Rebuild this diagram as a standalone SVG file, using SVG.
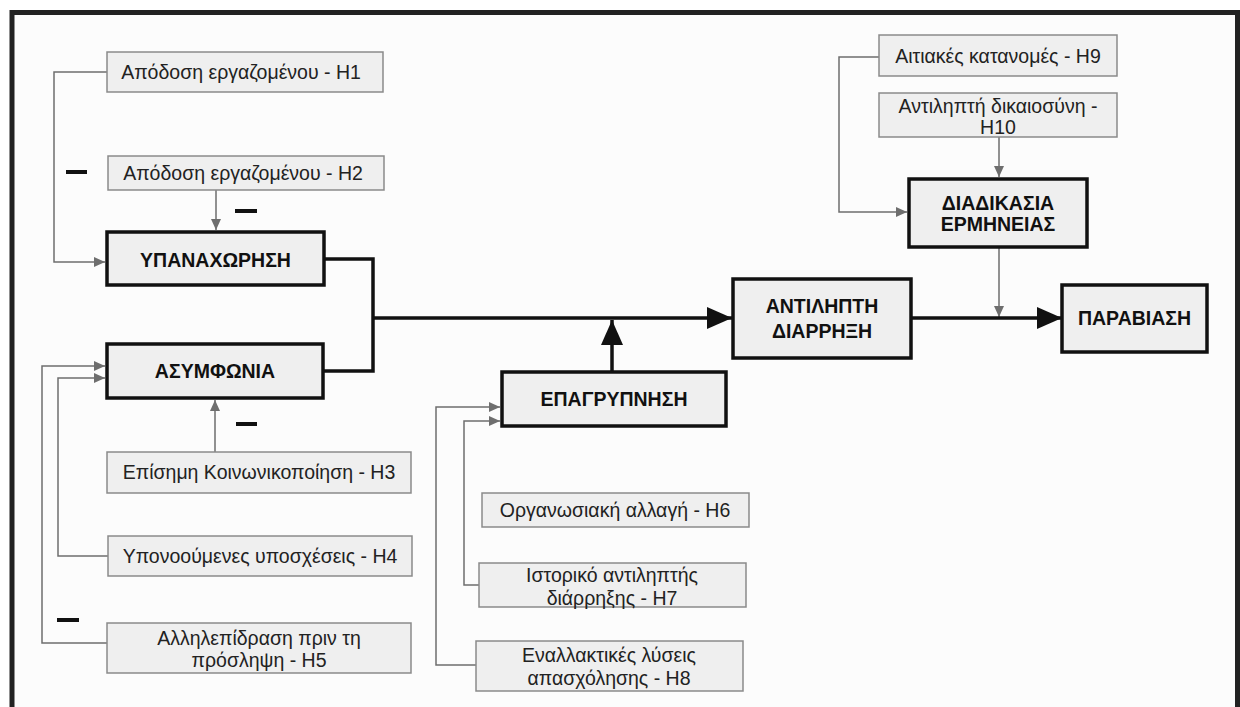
<svg xmlns="http://www.w3.org/2000/svg" width="1240" height="707" viewBox="0 0 1240 707">
<style>
.hb{fill:#efefef;stroke:#8a8a8a;stroke-width:1.5}
.mb{fill:#efefef;stroke:#111;stroke-width:3.5}
.ht{font-family:"Liberation Sans",Arial,sans-serif;font-size:19.5px;fill:#222;text-anchor:middle}
.mt{font-family:"Liberation Sans",Arial,sans-serif;font-size:19.5px;font-weight:bold;fill:#111;text-anchor:middle}
.gc{fill:none;stroke:#6e6e6e;stroke-width:1.5}
.bc{fill:none;stroke:#111;stroke-width:3.5}
.minus{fill:#111}
</style>
<defs>
<marker id="ga" markerUnits="userSpaceOnUse" markerWidth="12" markerHeight="10" refX="11" refY="5" orient="auto"><path d="M0,0 L11,5 L0,10 Z" fill="#6e6e6e"/></marker>
<marker id="ba" markerUnits="userSpaceOnUse" markerWidth="26" markerHeight="22" refX="25" refY="11" orient="auto"><path d="M0,0 L25,11 L0,22 Z" fill="#111"/></marker>
</defs>
<rect x="0" y="0" width="1240" height="707" fill="#ffffff"/>
<rect x="12" y="12" width="1225" height="700" fill="#fcfcfc"/>
<path d="M12,707 V12.5 H1237.5 V707" fill="none" stroke="#222" stroke-width="5"/>

<g id="connectors">
<path class="gc" d="M107,72 H54 V262 H105" marker-end="url(#ga)"/>
<path class="gc" d="M216,190 V230" marker-end="url(#ga)"/>
<path class="gc" d="M215,452 V400" marker-end="url(#ga)"/>
<path class="gc" d="M108,556 H58 V378 H105" marker-end="url(#ga)"/>
<path class="gc" d="M107,643 H42 V366 H105" marker-end="url(#ga)"/>
<path class="gc" d="M479,585 H464 V421 H500" marker-end="url(#ga)"/>
<path class="gc" d="M476,665 H436 V407 H500" marker-end="url(#ga)"/>
<path class="gc" d="M879,57 H839 V212 H907" marker-end="url(#ga)"/>
<path class="gc" d="M999,137 V177" marker-end="url(#ga)"/>
<path class="gc" d="M999,247 V317" marker-end="url(#ga)"/>
<path class="bc" d="M324,259 H373 V371 H323"/>
<path class="bc" d="M373,318 H732" marker-end="url(#ba)"/>
<path class="bc" d="M612,372 V320" marker-end="url(#ba)"/>
<path class="bc" d="M911,318 H1062" marker-end="url(#ba)"/>
<rect class="minus" x="66" y="170" width="21" height="4"/>
<rect class="minus" x="235" y="209" width="22" height="4"/>
<rect class="minus" x="236" y="422" width="21" height="4"/>
<rect class="minus" x="57" y="618" width="22" height="4"/>
</g>

<g id="n-h1"><rect class="hb" x="107" y="52" width="276" height="40"/><text class="ht" x="241" y="79">Απόδοση εργαζομένου - H1</text></g>
<g id="n-h2"><rect class="hb" x="108" y="156" width="276" height="34"/><text class="ht" x="243" y="180">Απόδοση εργαζομένου - H2</text></g>
<g id="n-ypanaxorisi"><rect class="mb" x="107" y="232" width="217" height="53"/><text class="mt" x="215.5" y="267">ΥΠΑΝΑΧΩΡΗΣΗ</text></g>
<g id="n-asymfonia"><rect class="mb" x="107" y="344" width="216" height="54"/><text class="mt" x="215" y="378">ΑΣΥΜΦΩΝΙΑ</text></g>
<g id="n-h3"><rect class="hb" x="107" y="452" width="304" height="41"/><text class="ht" x="259" y="479">Επίσημη Κοινωνικοποίηση - H3</text></g>
<g id="n-h4"><rect class="hb" x="108" y="536" width="304" height="40"/><text class="ht" x="260" y="563">Υπονοούμενες υποσχέσεις - H4</text></g>
<g id="n-h5"><rect class="hb" x="107" y="623" width="304" height="50"/><text class="ht" x="259" y="645">Αλληλεπίδραση πριν τη</text><text class="ht" x="259" y="667">πρόσληψη - H5</text></g>
<g id="n-epagrypnisi"><rect class="mb" x="502" y="372" width="224" height="54"/><text class="mt" x="614" y="406">ΕΠΑΓΡΥΠΝΗΣΗ</text></g>
<g id="n-h6"><rect class="hb" x="482" y="493" width="267" height="34"/><text class="ht" x="615" y="517">Οργανωσιακή αλλαγή - H6</text></g>
<g id="n-h7"><rect class="hb" x="479" y="563" width="267" height="44"/><text class="ht" x="612" y="582">Ιστορικό αντιληπτής</text><text class="ht" x="612" y="605">διάρρηξης - H7</text></g>
<g id="n-h8"><rect class="hb" x="476" y="641" width="267" height="50"/><text class="ht" x="609" y="662">Εναλλακτικές λύσεις</text><text class="ht" x="609" y="685">απασχόλησης - H8</text></g>
<g id="n-antilipti"><rect class="mb" x="733" y="279" width="178" height="79"/><text class="mt" x="822" y="313">ΑΝΤΙΛΗΠΤΗ</text><text class="mt" x="822" y="338">ΔΙΑΡΡΗΞΗ</text></g>
<g id="n-h9"><rect class="hb" x="879" y="35" width="238" height="41"/><text class="ht" x="998" y="63">Αιτιακές κατανομές - H9</text></g>
<g id="n-h10"><rect class="hb" x="879" y="93" width="238" height="44"/><text class="ht" x="998" y="113">Αντιληπτή δικαιοσύνη -</text><text class="ht" x="998" y="134">H10</text></g>
<g id="n-diadikasia"><rect class="mb" x="909" y="179" width="178" height="68"/><text class="mt" x="998" y="210">ΔΙΑΔΙΚΑΣΙΑ</text><text class="mt" x="998" y="231">ΕΡΜΗΝΕΙΑΣ</text></g>
<g id="n-paraviasi"><rect class="mb" x="1062" y="285" width="145" height="67"/><text class="mt" x="1134.5" y="325">ΠΑΡΑΒΙΑΣΗ</text></g>
</svg>
